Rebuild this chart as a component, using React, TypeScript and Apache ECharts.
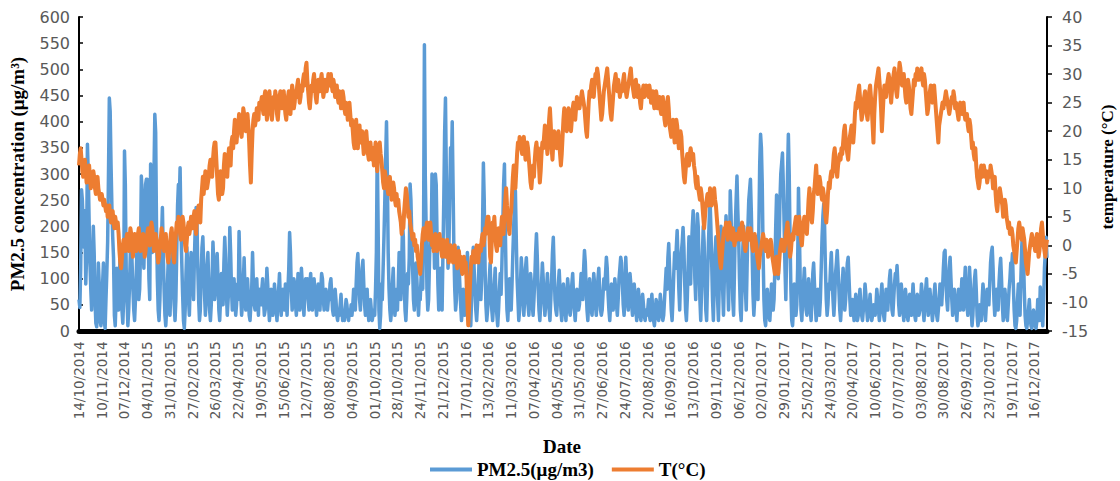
import React, { useEffect, useRef } from "react";
import * as echarts from "echarts";

// ---- categories: daily dates, with the gaps seen in the tick labels ----
const START_DATE = "2014-10-14";
const END_DATE = "2017-12-31";
const MISSING_DATES_FROM_TO: [string, string][] = [
  ["2014-12-25", "2014-12-25"],
  ["2017-05-10", "2017-06-02"],
];

// ---- PM2.5 (µg/m3), daily, rows of 27 days starting at each tick label ----
const PM25: number[] = [
  60,45,120,270,250,200,160,230,90,140,357,300,210,130,80,40,120,200,150,60,15,8,40,130,90,20,10,
  30,90,130,20,5,60,110,170,300,445,420,320,240,180,140,30,10,60,120,80,40,100,160,95,40,15,60,
  344,280,120,60,10,40,90,150,180,130,80,40,20,60,110,170,120,60,80,150,296,260,180,120,200,280,290,
  290,200,100,60,319,250,150,200,300,414,380,200,100,40,20,60,130,180,236,150,80,30,10,40,90,140,60,
  30,80,130,170,110,50,20,60,150,240,280,250,312,200,130,70,20,5,40,110,160,130,60,30,90,150,120,
  100,60,140,200,236,210,120,60,20,40,110,160,180,130,70,30,60,120,150,90,40,20,50,100,170,130,60,
  80,120,148,100,40,20,60,110,90,50,130,179,140,70,30,60,90,198,150,80,40,60,100,70,30,50,90,
  60,190,120,70,30,50,90,140,80,40,60,100,70,30,20,50,80,150,90,50,40,70,100,60,30,80,60,
  50,80,100,60,30,40,70,120,90,50,20,40,80,60,30,50,90,70,40,20,50,80,110,60,30,60,80,
  70,40,90,60,30,80,120,188,150,80,40,60,100,90,50,30,70,110,80,40,60,120,90,50,30,70,100,
  80,100,60,40,90,110,70,40,60,100,80,50,30,70,90,60,40,80,110,100,60,40,50,80,70,40,60,
  60,90,100,70,40,30,50,80,60,30,20,40,30,50,70,40,20,30,20,40,60,50,30,20,40,30,50,
  30,50,80,60,40,90,130,148,100,60,40,80,120,135,90,50,30,60,80,40,20,30,60,40,20,30,40,
  30,80,150,350,210,40,5,30,90,60,120,180,250,330,400,300,150,80,40,20,40,90,120,60,30,50,80,
  40,90,150,100,60,120,205,180,90,40,20,60,110,90,140,281,250,180,120,60,40,80,130,100,60,30,70,
  60,100,150,80,200,547,300,200,80,40,60,130,200,160,300,290,200,120,300,280,180,90,40,60,120,80,40,
  150,250,380,445,300,200,120,150,250,350,300,400,280,150,80,40,60,120,160,130,90,50,20,40,80,60,30,
  40,80,150,120,60,20,10,60,130,160,120,80,40,20,50,90,140,110,60,100,200,321,250,120,50,20,40,
  60,100,130,80,40,20,50,90,120,60,30,10,40,80,110,70,130,200,280,319,200,100,40,20,60,100,70,
  40,90,150,200,250,268,180,100,60,20,40,90,140,110,60,30,60,120,140,100,50,30,70,110,90,50,30,
  60,100,150,186,140,80,40,20,50,90,130,100,60,30,50,80,110,70,40,20,60,100,150,179,120,60,40,
  30,60,90,116,80,40,20,50,90,70,40,20,60,100,80,40,30,50,90,110,70,40,20,50,80,60,40,
  50,80,110,90,60,120,154,130,80,40,20,60,100,80,40,30,70,110,90,50,30,60,100,120,80,40,30,
  40,70,100,80,110,141,120,70,40,20,50,90,80,40,60,100,80,50,30,60,100,120,141,130,90,50,30,
  60,141,100,60,40,80,110,90,50,30,60,90,70,40,20,50,80,60,30,20,40,70,50,30,20,40,30,
  40,60,30,20,50,70,40,20,10,30,60,50,30,20,40,70,50,30,20,30,60,90,120,80,140,167,120,
  80,40,20,60,110,150,120,160,192,140,80,40,100,150,170,198,160,90,40,20,60,120,180,150,90,160,200,
  230,180,100,60,150,224,200,120,60,20,80,150,200,170,100,40,20,90,160,210,255,200,130,60,20,90,150,
  180,120,60,20,90,160,200,150,80,30,100,170,220,180,100,40,120,268,220,140,60,30,110,200,250,296,230,
  180,100,40,20,80,160,200,150,80,40,120,200,250,270,290,230,150,70,30,60,130,180,120,60,200,320,376,
  350,280,150,60,20,10,40,80,60,30,20,50,90,70,40,60,120,200,260,180,100,150,250,300,320,340,280,
  200,120,60,150,300,376,300,180,80,20,10,40,90,60,30,50,120,273,200,100,40,20,60,90,120,80,40,
  30,60,100,80,40,20,60,110,130,90,50,20,40,80,60,30,60,120,180,220,243,200,120,60,30,50,90,
  80,120,150,100,60,30,60,110,130,154,120,80,40,20,50,90,120,80,40,60,100,130,141,100,60,30,50,
  60,40,20,50,70,40,20,30,60,80,50,30,20,40,60,90,70,40,20,30,50,70,40,20,30,50,40,
  30,50,80,60,40,20,40,70,90,60,30,20,50,80,60,40,70,100,116,80,40,30,60,90,110,100,125,
  90,50,30,60,90,70,40,20,50,80,60,30,20,40,70,50,30,60,90,60,30,20,40,70,50,30,40,
  60,90,70,40,20,50,80,100,60,30,50,80,60,40,20,40,70,90,60,30,20,40,60,90,70,50,80,
  120,150,154,100,60,40,80,120,141,100,60,30,50,80,60,40,20,50,80,60,40,70,100,80,40,90,122,
  80,50,30,60,122,90,40,10,30,70,100,116,80,30,10,20,50,40,20,60,90,70,40,20,50,80,60,
  50,90,130,150,160,120,60,30,50,80,60,40,90,120,139,100,50,20,40,80,60,30,20,50,80,100,130,
  120,148,90,40,10,5,20,60,90,60,30,100,160,192,150,80,30,10,5,20,40,60,30,10,5,20,40,
  30,10,5,20,60,40,20,84,60,30,10,60,120,150,179,140,
];

// ---- Temperature (°C), daily, same rows ----
const TEMP: number[] = [
  14,16,17,15,13,12,14,15,13,11,12,13,14,12,10,11,12,13,12,10,9,11,12,10,9,8,9,
  9,8,7,8,7,6,7,5,6,7,5,4,5,6,4,3,5,4,3,4,2,-1,-3,-4,-2,0,1,
  0,-1,1,2,0,-1,1,3,2,0,-2,1,2,1,-1,0,2,3,1,-1,0,1,2,0,-2,-1,1,
  2,3,1,0,2,4,3,1,-1,0,2,1,-1,-3,-2,0,1,3,2,0,-1,1,2,0,-2,-3,-1,
  0,2,3,1,-2,-3,0,2,4,3,5,4,2,1,3,5,4,2,0,-1,1,3,4,2,3,5,4,
  3,5,6,4,2,5,6,7,5,4,8,10,12,9,11,13,12,10,11,12,14,15,13,12,15,17,18,
  18,15,12,9,8,10,13,11,9,10,14,16,15,13,12,15,17,16,14,18,19,17,20,22,21,18,20,
  21,23,22,20,19,21,24,23,21,20,22,23,21,18,14,11,16,20,22,23,21,22,24,23,22,25,24,
  25,26,24,23,26,27,25,22,24,26,27,25,23,22,24,26,25,27,26,23,22,24,26,27,25,24,26,
  27,25,23,22,24,26,27,25,23,26,28,27,24,25,27,26,28,29,27,25,26,28,27,29,30,28,31,
  32,29,27,25,24,26,28,27,29,30,28,26,25,27,29,28,27,29,30,28,26,27,29,28,27,28,30,
  29,28,30,28,27,29,28,26,27,28,26,25,27,26,24,25,27,26,24,23,25,24,22,23,25,23,21,
  22,20,18,17,21,22,19,17,20,21,18,19,20,18,16,17,19,20,18,16,15,17,18,16,15,17,14,
  16,18,15,13,16,17,18,16,15,13,11,10,13,12,11,10,9,11,12,10,8,9,11,10,8,7,9,
  7,8,6,5,4,2,4,3,6,8,10,9,7,5,6,4,3,2,1,2,0,1,-1,0,-2,-3,-4,
  -5,-3,0,2,3,1,2,3,4,2,1,3,4,2,0,1,-1,0,2,1,-1,0,1,2,0,-1,-2,
  1,0,-1,-2,0,1,-1,-3,-2,0,-1,-2,-3,-1,0,-2,-3,-4,-2,-1,-3,-2,-4,-5,-3,-2,-4,
  -3,-6,-10,-14,-11,-7,-4,-2,-3,-1,-2,-3,-1,0,-2,-3,-1,0,-1,1,2,0,1,3,2,4,5,
  5,3,-2,-3,1,4,3,5,2,0,-1,1,3,2,0,3,5,4,2,6,8,10,7,5,3,2,5,
  6,9,12,14,11,10,13,16,18,17,19,18,17,16,18,19,17,15,16,18,17,15,13,11,10,12,14,
  12,15,17,18,16,17,14,11,13,16,18,17,19,21,20,18,16,19,22,24,21,17,15,18,20,19,18,
  17,19,20,18,16,14,16,19,22,24,23,21,20,22,24,23,21,20,22,24,25,23,22,24,26,25,24,
  24,25,26,27,26,25,24,22,20,19,22,25,27,26,28,29,27,26,28,30,29,31,30,28,26,24,22,
  23,25,27,28,29,30,31,29,27,25,23,22,24,26,28,29,30,28,27,29,28,26,27,28,27,29,30,
  28,27,26,27,28,29,30,31,29,28,27,26,28,29,27,26,28,27,25,24,26,27,28,26,27,28,27,
  27,26,28,27,25,26,27,25,24,26,27,26,24,25,26,24,23,25,26,24,22,21,23,25,26,24,21,
  20,19,21,22,20,18,20,22,21,19,17,18,20,19,16,14,12,11,13,15,16,15,14,16,17,16,15,
  16,14,13,11,10,12,10,9,8,10,9,7,5,3,5,7,8,9,7,8,10,9,7,8,9,10,8,
  7,5,3,1,-1,-3,-4,-2,0,2,3,2,4,3,1,2,4,3,2,1,3,2,0,1,2,1,2,
  2,3,1,2,4,3,1,0,-1,0,2,3,2,1,3,2,0,-1,1,2,1,0,-2,-3,-4,-2,-1,
  0,1,2,1,0,-1,1,0,-2,-1,0,1,0,-2,-3,-4,-5,-3,-2,-4,-5,-3,-1,0,1,0,-1,
  -1,0,2,3,4,2,0,-2,-1,1,2,1,3,4,5,3,2,4,5,3,1,0,2,4,5,4,3,
  2,5,8,10,7,5,4,6,9,10,12,14,11,9,10,12,11,9,8,10,9,7,5,4,6,9,11,
  10,12,13,12,14,16,17,15,13,12,14,15,16,15,17,16,18,20,21,19,17,16,15,17,19,20,21,
  19,18,20,23,25,24,26,27,28,26,24,22,23,25,26,27,25,23,22,24,27,28,26,24,21,18,23,
  26,28,29,30,31,29,27,24,20,23,26,28,27,26,28,29,30,29,27,25,27,29,30,31,29,27,26,
  28,30,32,31,29,28,29,30,28,26,25,27,29,28,26,24,23,25,27,29,28,30,29,31,30,29,30,
  30,31,29,28,30,29,27,25,23,24,26,27,28,26,25,27,28,26,24,22,20,18,21,22,23,24,25,
  24,25,26,27,26,25,24,23,24,25,26,25,27,26,24,25,24,23,22,24,25,24,23,24,25,23,22,
  22,23,21,20,22,21,19,17,18,16,15,17,14,12,11,10,11,13,14,12,13,14,13,12,13,11,12,
  13,12,14,13,12,10,11,12,9,7,6,8,9,10,9,8,7,5,6,8,7,5,4,3,4,2,3,
  3,2,0,-1,-2,-3,-1,1,3,4,3,2,1,3,2,1,-1,-3,-4,-5,-3,-1,0,1,2,1,0,
  0,-1,1,2,0,-2,-1,1,3,4,2,0,-1,-2,0,1,
];

const PM_NAME = "PM2.5(μg/m3)";
const T_NAME = "T(°C)";
const LEFT_TITLE = "PM2.5 concentration (μg/m³)";
const RIGHT_TITLE = "temperature (°C)";
const X_TITLE = "Date";

function buildDates(count: number): string[] {
  const out: string[] = [];
  const skip = MISSING_DATES_FROM_TO.map(([a, b]) => [Date.parse(a + "T00:00:00Z"), Date.parse(b + "T00:00:00Z")]);
  let t = Date.parse(START_DATE + "T00:00:00Z");
  const end = Date.parse(END_DATE + "T00:00:00Z");
  while (out.length < count && t <= end + 400 * 86400000) {
    const missing = skip.some(([a, b]) => t >= a && t <= b);
    if (!missing) {
      const d = new Date(t);
      const dd = String(d.getUTCDate()).padStart(2, "0");
      const mm = String(d.getUTCMonth() + 1).padStart(2, "0");
      out.push(`${dd}/${mm}/${d.getUTCFullYear()}`);
    }
    t += 86400000;
  }
  return out;
}

export default function App() {
  const ref = useRef<HTMLDivElement>(null);
  useEffect(() => {
    if (!ref.current) return;
    const chart = echarts.init(ref.current, undefined, { renderer: "svg" });
    const n = Math.min(PM25.length, TEMP.length);
    const dates = buildDates(n);
    const labelColor = "#595959";
    chart.setOption({
      animation: false,
      grid: { left: 79, right: 73, top: 17, bottom: 150 },
      legend: {
        data: [
          { name: PM_NAME, icon: "rect" },
          { name: T_NAME, icon: "rect" },
        ],
        left: 430,
        top: 460,
        padding: 0,
        itemWidth: 42,
        itemHeight: 4,
        itemGap: 18,
        textStyle: { fontFamily: "Liberation Serif", fontWeight: "bold", fontSize: 19, color: "#000" },
      },
      xAxis: {
        type: "category",
        data: dates,
        boundaryGap: false,
        offset: 2.5,
        axisLine: { lineStyle: { color: "#000", width: 5 } },
        axisTick: { show: false },
        axisLabel: {
          interval: 26,
          rotate: 90,
          margin: 8,
          color: labelColor,
          fontSize: 13.5,
          fontFamily: "DejaVu Sans",
        },
        splitLine: { show: false },
      },
      yAxis: [
        {
          type: "value",
          min: 0,
          max: 600,
          interval: 50,
          axisLine: { show: true, lineStyle: { color: "#000", width: 2 } },
          axisTick: { show: true, inside: true, length: 4, lineStyle: { color: "#000", width: 1.5 } },
          axisLabel: { color: labelColor, fontSize: 16, fontFamily: "DejaVu Sans", margin: 9 },
          splitLine: { show: false },
        },
        {
          type: "value",
          min: -15,
          max: 40,
          interval: 5,
          position: "right",
          axisLine: { show: true, lineStyle: { color: "#000", width: 2 } },
          axisTick: { show: true, length: 5, lineStyle: { color: "#000", width: 1.5 } },
          axisLabel: { color: labelColor, fontSize: 16, fontFamily: "DejaVu Sans", margin: 15 },
          splitLine: { show: false },
        },
      ],
      series: [
        {
          name: PM_NAME,
          type: "line",
          data: PM25.slice(0, n),
          yAxisIndex: 0,
          symbol: "none",
          lineStyle: { color: "#5B9BD5", width: 3.5, join: "round" },
          itemStyle: { color: "#5B9BD5" },
        },
        {
          name: T_NAME,
          type: "line",
          data: TEMP.slice(0, n),
          yAxisIndex: 1,
          symbol: "none",
          lineStyle: { color: "#ED7D31", width: 4, join: "round" },
          itemStyle: { color: "#ED7D31" },
        },
      ],
      graphic: [
        {
          type: "text",
          x: 17,
          y: 174,
          rotation: Math.PI / 2,
          style: {
            text: LEFT_TITLE,
            fontFamily: "Liberation Serif",
            fontWeight: "bold",
            fontSize: 19,
            fill: "#000",
            align: "center",
            verticalAlign: "middle",
          },
        },
        {
          type: "text",
          x: 1107,
          y: 167,
          rotation: Math.PI / 2,
          style: {
            text: RIGHT_TITLE,
            fontFamily: "Liberation Serif",
            fontWeight: "bold",
            fontSize: 17,
            fill: "#000",
            align: "center",
            verticalAlign: "middle",
          },
        },
        {
          type: "text",
          x: 562,
          y: 446,
          style: {
            text: X_TITLE,
            fontFamily: "Liberation Serif",
            fontWeight: "bold",
            fontSize: 19,
            fill: "#000",
            align: "center",
            verticalAlign: "middle",
          },
        },
      ],
    });
    return () => chart.dispose();
  }, []);
  return (
    <div
      ref={ref}
      style={{ position: "fixed", left: 0, top: 0, width: 1120, height: 481, background: "#fff" }}
    />
  );
}
